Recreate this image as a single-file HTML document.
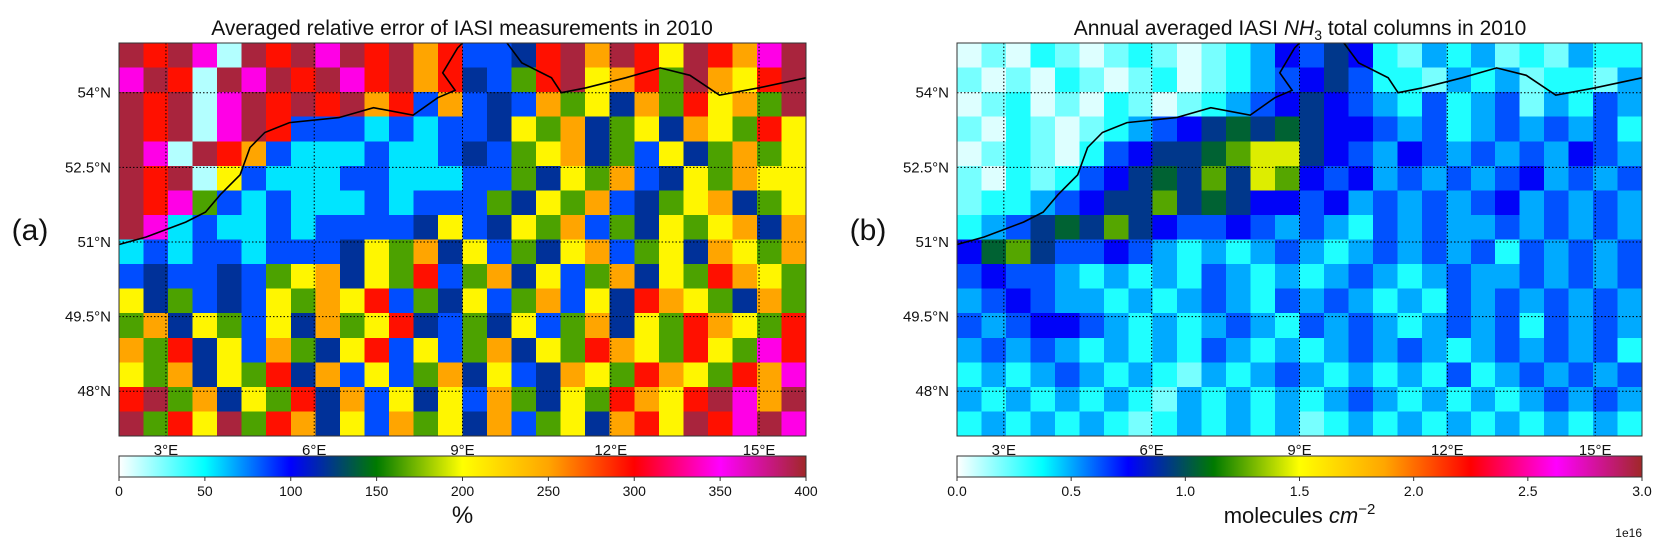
<!DOCTYPE html>
<html><head><meta charset="utf-8"><style>
html,body{margin:0;padding:0;background:#fff;}
svg{display:block;font-family:"Liberation Sans","DejaVu Sans",sans-serif;}
</style></head><body>
<svg id="fig" width="1672" height="541" viewBox="0 0 1672 541" xmlns="http://www.w3.org/2000/svg">
<defs>
<linearGradient id="cmap" x1="0" x2="1" y1="0" y2="0">
<stop offset="0" stop-color="#ffffff"/><stop offset="0.125" stop-color="#00ffff"/><stop offset="0.25" stop-color="#0000ff"/><stop offset="0.375" stop-color="#007a00"/><stop offset="0.5" stop-color="#ffff00"/><stop offset="0.625" stop-color="#ffa500"/><stop offset="0.75" stop-color="#ff0000"/><stop offset="0.875" stop-color="#ff00ff"/><stop offset="1" stop-color="#a02828"/>
</linearGradient>
</defs>
<text x="462" y="35" font-size="21" text-anchor="middle" fill="#111">Averaged relative error of IASI measurements in 2010</text>
<text x="1300" y="35" font-size="21" text-anchor="middle" fill="#111">Annual averaged IASI <tspan font-style="italic">NH</tspan><tspan font-size="14" dy="5">3</tspan><tspan dy="-5"> total columns in 2010</tspan></text>
<text x="30" y="240" font-size="30" text-anchor="middle" fill="#111">(a)</text>
<text x="868" y="240" font-size="30" text-anchor="middle" fill="#111">(b)</text>
<g id="mapA"></g>
<g id="mapB"></g>
</svg>
<script>
// ---- data ----
const lonTicks = [3, 6, 9, 12, 15];
const latTicks = [48, 49.5, 51, 52.5, 54];
const errTicks = [0, 50, 100, 150, 200, 250, 300, 350, 400];
const nh3Ticks = [0.0, 0.5, 1.0, 1.5, 2.0, 2.5, 3.0];
const errLevels = [15, 55, 85, 120, 165, 205, 250, 295, 345, 395];
const nh3Levels = [0.05, 0.2, 0.33, 0.5, 0.63, 0.76, 0.92, 1.05, 1.25, 1.45];
const errRows = [
"9798097989796722379697597689",
"8970989798796732479567496579",
"9790897979672623264536475649",
"9790897222121223546345365475",
"9809762111211232456342534645",
"9790521112211122435462354655",
"9784212111212224354623456345",
"9812112122223523546243545636",
"1212212223546352435624536546",
"2322324563547246352463547654",
"5342325465724352462537654364",
"4635425364573243524635476547",
"6473526435725246354765475487",
"5463547362524635236547654768",
"7946354736253526435476579869",
"9475947635264536245367597898"
];
const nh3Rows = [
"0102101210123546521323121322",
"1010210120123456422132312213",
"0120102101234565432423413243",
"1021012345676765543423434342",
"0121024566789965435434343543",
"1021245676869854534343453434",
"1223456686765545343434534343",
"2346768654454343243433434343",
"5786445432323432343434243434",
"4544323232432323432343343434",
"3454332323432434323243434343",
"4345543232343243432343424343",
"3434323232432323434323434342",
"2323432321323432323242343434",
"3232323213232323432323234343",
"2323232123232312323232323232"
];
const coastNorth = [[2.05,50.95],[2.6,51.1],[3.4,51.4],[3.8,51.6],[4.1,51.95],[4.5,52.35],[4.7,52.9],[5.0,53.2],[5.5,53.4],[6.5,53.5],[7.2,53.7],[8.0,53.55],[8.5,53.9],[8.85,54.05],[8.6,54.4],[8.9,54.9],[9.0,55.0]];
const coastBaltic = [[9.9,55.0],[10.2,54.6],[10.8,54.3],[11.0,54.0],[11.5,54.1],[12.3,54.3],[13.0,54.5],[13.6,54.35],[14.2,53.95],[15.0,54.1],[15.95,54.3]];
// ---- axes ----
const LON0 = 2.05, LON1 = 15.95, LAT0 = 47.1, LAT1 = 55.0;
const Y0 = 43, Y1 = 436;
const panels = [
  {g:'mapA', x0:119, x1:806, rows:errRows, levels:errLevels, vmax:400, ticks:errTicks, fmt:v=>String(v), label:'%'},
  {g:'mapB', x0:957, x1:1642, rows:nh3Rows, levels:nh3Levels, vmax:3, ticks:nh3Ticks, fmt:v=>v.toFixed(1), label:'mol'}
];
const stops = [[0,[255,255,255]],[0.125,[0,255,255]],[0.25,[0,0,255]],[0.375,[0,122,0]],[0.5,[255,255,0]],[0.625,[255,165,0]],[0.75,[255,0,0]],[0.875,[255,0,255]],[1,[160,40,40]]];
function cmap(t){t=Math.max(0,Math.min(1,t));for(let i=1;i<stops.length;i++){if(t<=stops[i][0]){const a=stops[i-1],b=stops[i];const f=(t-a[0])/(b[0]-a[0]);const c=a[1].map((v,k)=>Math.round(v+(b[1][k]-v)*f));return 'rgb('+c.join(',')+')';}}return 'rgb(160,40,40)';}
const NS='http://www.w3.org/2000/svg';
function mk(tag,attrs,parent){const e=document.createElementNS(NS,tag);for(const k in attrs)e.setAttribute(k,attrs[k]);parent.appendChild(e);return e;}
panels.forEach((p,pi)=>{
  const g=document.getElementById(p.g);
  const xs=lon=>p.x0+(lon-LON0)/(LON1-LON0)*(p.x1-p.x0);
  const ys=lat=>Y0+(LAT1-lat)/(LAT1-LAT0)*(Y1-Y0);
  const nr=p.rows.length, nc=p.rows[0].length;
  const dlon=(LON1-LON0)/nc, dlat=(LAT1-LAT0)/nr;
  const cells=mk('g',{'shape-rendering':'crispEdges'},g);
  
  
  p.rows.forEach((row,r)=>{
    for(let c=0;c<nc;c++){
      const v=p.levels[+row[c]];
      const la=LAT1-r*dlat, lo=LON0+c*dlon;
      const x=xs(lo), y=ys(la);
      const rc=mk('rect',{x:x.toFixed(2),y:y.toFixed(2),width:(xs(lo+dlon)-x+0.6).toFixed(2),height:(ys(la-dlat)-y+0.6).toFixed(2),fill:cmap(v/p.vmax)},cells);
      
      
    }
  });
  [coastNorth,coastBaltic].forEach(line=>{
    const pl=mk('polyline',{points:line.map(q=>xs(q[0]).toFixed(1)+','+ys(q[1]).toFixed(1)).join(' '),fill:'none',stroke:'#000','stroke-width':1.6},g);
    
    
  });
  lonTicks.forEach(lo=>{
    const x=xs(lo);
    const l=mk('line',{x1:x,x2:x,y1:Y0,y2:Y1,stroke:'#000','stroke-width':1,'stroke-dasharray':'1.5,2'},g);
    
    
    const t=mk('text',{x:x,y:455,'font-size':15,'text-anchor':'middle',fill:'#111'},g);
    t.textContent=lo+'°E';
    
    
  });
  latTicks.forEach(la=>{
    const y=ys(la);
    const l=mk('line',{x1:p.x0,x2:p.x1,y1:y,y2:y,stroke:'#000','stroke-width':1,'stroke-dasharray':'1.5,2'},g);
    
    
    const t=mk('text',{x:p.x0-8,y:y+5,'font-size':15,'text-anchor':'end',fill:'#111'},g);
    t.textContent=la+'°N';
    
    
  });
  const fr=mk('rect',{x:p.x0,y:Y0,width:p.x1-p.x0,height:Y1-Y0,fill:'none',stroke:'#333','stroke-width':1},g);
  
  
  const cb=mk('rect',{x:p.x0,y:456,width:p.x1-p.x0,height:21,fill:'url(#cmap)',stroke:'#333','stroke-width':1},g);
  
  
  p.ticks.forEach(v=>{
    const x=p.x0+v/p.vmax*(p.x1-p.x0);
    const tk=mk('line',{x1:x,x2:x,y1:477,y2:481,stroke:'#333','stroke-width':1},g);
    
    
    const t=mk('text',{x:x,y:496,'font-size':14,'text-anchor':'middle',fill:'#111'},g);
    t.textContent=p.fmt(v);
    
    
  });
  const cx=(p.x0+p.x1)/2;
  if(p.label==='%'){
    const t=mk('text',{x:cx,y:523,'font-size':24,'text-anchor':'middle',fill:'#111'},g);
    t.textContent='%';
    
    
  } else {
    const t=mk('text',{x:cx,y:523,'font-size':22,'text-anchor':'middle',fill:'#111'},g);
    t.innerHTML='molecules <tspan font-style="italic">cm</tspan><tspan font-size="15" dy="-9">−2</tspan>';
    
    
    const e=mk('text',{x:p.x1,y:537,'font-size':12,'text-anchor':'end',fill:'#111'},g);
    e.textContent='1e16';
    
    
  }
});
</script>
</body></html>
